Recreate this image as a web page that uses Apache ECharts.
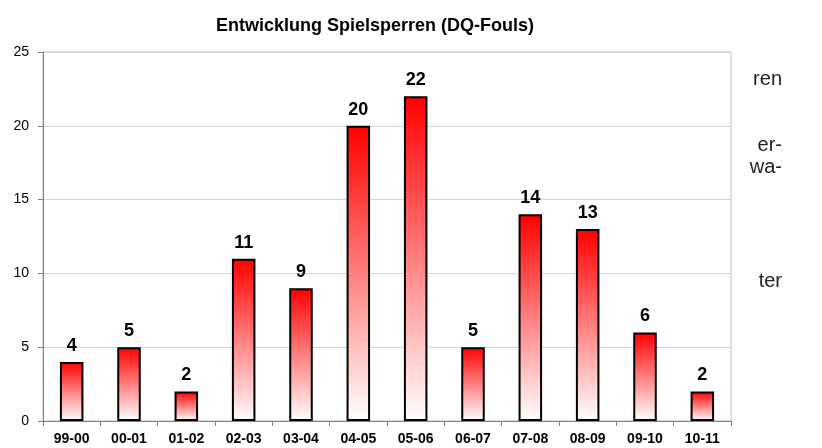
<!DOCTYPE html>
<html><head><meta charset="utf-8">
<script src="https://cdn.jsdelivr.net/npm/echarts@6/dist/echarts.min.js"></script>
<style>html,body{margin:0;padding:0;background:#fff}#c{width:822px;height:448px}</style>
</head><body><div id="c"></div>
<script>
const categories = ['99-00','00-01','01-02','02-03','03-04','04-05','05-06','06-07','07-08','08-09','09-10','10-11'];
const values = [4,5,2,11,9,20,22,5,14,13,6,2];
const yTicks = [0,5,10,15,20,25];
const sideWords = ['ren','er-','wa-','ter'];
const sideY = [80,146,168,282];

const chart = echarts.init(document.getElementById('c'));
chart.setOption({
  animation:false,
  backgroundColor:'#fff',
  title:{text:'Entwicklung Spielsperren (DQ-Fouls)',left:370,top:12,textAlign:'center',
    textStyle:{fontFamily:'Liberation Sans, Arial',fontSize:18,fontWeight:'bold',color:'#000'}},
  grid:{left:43,right:91,top:52,bottom:27,show:true,borderColor:'#c0c0c0',borderWidth:1},
  xAxis:{type:'category',data:categories,
    axisLine:{lineStyle:{color:'#808080',width:1}},
    axisTick:{show:true,alignWithLabel:false,length:5,lineStyle:{color:'#808080'}},
    axisLabel:{fontFamily:'Liberation Sans, Arial',fontSize:14,fontWeight:'bold',color:'#000',margin:11}},
  yAxis:{type:'value',min:yTicks[0],max:yTicks[yTicks.length-1],interval:5,
    axisLine:{show:true,lineStyle:{color:'#808080',width:1}},
    axisTick:{show:true,length:5,lineStyle:{color:'#808080'}},
    splitLine:{lineStyle:{color:'#d4d4d4',width:1}},
    axisLabel:{fontFamily:'Liberation Sans, Arial',fontSize:14,color:'#000',margin:14}},
  series:[{type:'bar',data:values,barWidth:'41%',
    itemStyle:{borderColor:'#000',borderWidth:2,
      color:new echarts.graphic.LinearGradient(0,0,0,1,[{offset:0,color:'#ff0000'},{offset:1,color:'#ffffff'}])},
    label:{show:true,position:'top',distance:7,fontFamily:'Liberation Sans, Arial',fontSize:18,fontWeight:'bold',color:'#000'}}],
  graphic: sideWords.map((w,i)=>({type:'text',right:40,top:sideY[i]-11,
    style:{text:w,fontFamily:'Liberation Sans, Arial',fontSize:20,fill:'#222',textAlign:'right'}}))
});
</script></body></html>
